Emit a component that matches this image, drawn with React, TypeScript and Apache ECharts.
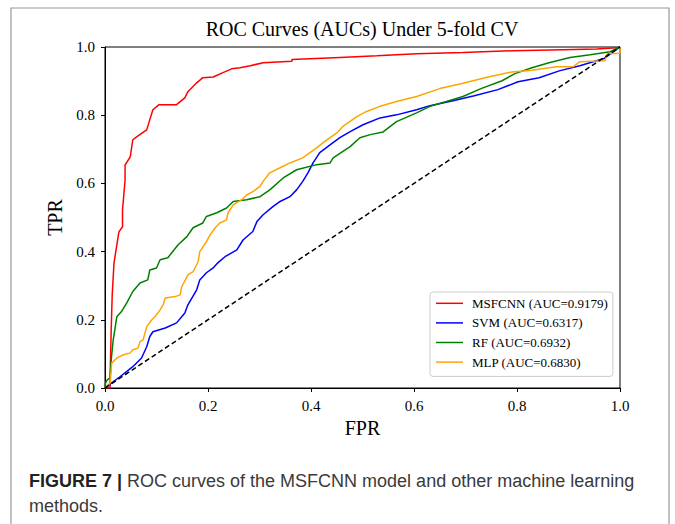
import React, { useEffect, useRef } from "react";
import * as echarts from "echarts";

const TITLE = "ROC Curves (AUCs) Under 5-fold CV";
const SERIES_NAMES = [
  "MSFCNN (AUC=0.9179)",
  "SVM (AUC=0.6317)",
  "RF (AUC=0.6932)",
  "MLP (AUC=0.6830)",
];
const SERIES_COLORS = ["#ff0000", "#0000ff", "#008000", "#ffa500"];

const msfcnnFpr = [0, 0.01, 0.0097, 0.012, 0.014, 0.0175, 0.023, 0.027, 0.034, 0.034, 0.039, 0.039, 0.049, 0.054, 0.062, 0.081, 0.087, 0.093, 0.105, 0.139, 0.146, 0.155, 0.161, 0.178, 0.19, 0.21, 0.229, 0.246, 0.262, 0.282, 0.307, 0.363, 0.363, 0.456, 0.528, 0.605, 0.695, 0.792, 0.889, 0.955, 0.994, 1];
const msfcnnTpr = [0, 0, 0.015, 0.17, 0.273, 0.367, 0.42, 0.458, 0.473, 0.522, 0.61, 0.654, 0.678, 0.728, 0.737, 0.757, 0.787, 0.816, 0.831, 0.831, 0.84, 0.851, 0.869, 0.895, 0.91, 0.912, 0.925, 0.936, 0.939, 0.945, 0.954, 0.958, 0.963, 0.969, 0.974, 0.98, 0.984, 0.989, 0.992, 0.994, 0.998, 1];

const svmFpr = [0, 0.003, 0.029, 0.054, 0.071, 0.081, 0.087, 0.093, 0.117, 0.139, 0.155, 0.161, 0.178, 0.184, 0.197, 0.21, 0.219, 0.233, 0.256, 0.268, 0.287, 0.295, 0.307, 0.326, 0.34, 0.359, 0.372, 0.384, 0.394, 0.404, 0.417, 0.437, 0.456, 0.476, 0.501, 0.534, 0.566, 0.605, 0.631, 0.678, 0.717, 0.763, 0.802, 0.843, 0.882, 0.922, 0.969, 1];
const svmTpr = [0, 0.004, 0.033, 0.0625, 0.088, 0.121, 0.151, 0.165, 0.176, 0.191, 0.22, 0.244, 0.288, 0.317, 0.338, 0.352, 0.367, 0.385, 0.405, 0.434, 0.459, 0.488, 0.508, 0.532, 0.547, 0.561, 0.581, 0.606, 0.631, 0.66, 0.69, 0.713, 0.734, 0.752, 0.772, 0.792, 0.801, 0.816, 0.828, 0.843, 0.857, 0.875, 0.898, 0.91, 0.93, 0.945, 0.966, 1];

const rfFpr = [0, 0.001, 0.004, 0.01, 0.012, 0.016, 0.023, 0.032, 0.042, 0.054, 0.068, 0.083, 0.087, 0.1, 0.107, 0.122, 0.142, 0.159, 0.171, 0.19, 0.197, 0.217, 0.236, 0.249, 0.275, 0.301, 0.32, 0.346, 0.372, 0.411, 0.437, 0.443, 0.462, 0.476, 0.495, 0.515, 0.54, 0.566, 0.605, 0.631, 0.663, 0.695, 0.73, 0.771, 0.796, 0.829, 0.862, 0.903, 0.942, 0.981, 1];
const rfTpr = [0, 0.015, 0.023, 0.03, 0.082, 0.141, 0.209, 0.224, 0.249, 0.283, 0.308, 0.317, 0.346, 0.352, 0.376, 0.382, 0.42, 0.444, 0.47, 0.484, 0.503, 0.514, 0.528, 0.547, 0.552, 0.561, 0.581, 0.616, 0.64, 0.655, 0.66, 0.675, 0.694, 0.708, 0.734, 0.743, 0.751, 0.781, 0.807, 0.826, 0.84, 0.855, 0.878, 0.901, 0.922, 0.939, 0.954, 0.969, 0.977, 0.986, 1];

const mlpFpr = [0, 0.01, 0.013, 0.023, 0.035, 0.049, 0.054, 0.064, 0.068, 0.074, 0.081, 0.091, 0.097, 0.107, 0.113, 0.117, 0.136, 0.146, 0.149, 0.161, 0.171, 0.181, 0.184, 0.197, 0.204, 0.214, 0.223, 0.236, 0.239, 0.249, 0.265, 0.275, 0.287, 0.301, 0.307, 0.32, 0.34, 0.359, 0.384, 0.398, 0.411, 0.423, 0.437, 0.45, 0.462, 0.476, 0.489, 0.508, 0.534, 0.566, 0.605, 0.65, 0.691, 0.744, 0.79, 0.829, 0.876, 0.909, 0.922, 0.971, 0.975, 1, 1];
const mlpTpr = [0, 0.015, 0.073, 0.088, 0.097, 0.103, 0.112, 0.117, 0.136, 0.141, 0.18, 0.2, 0.209, 0.229, 0.244, 0.264, 0.268, 0.273, 0.297, 0.332, 0.341, 0.371, 0.4, 0.429, 0.449, 0.47, 0.484, 0.493, 0.514, 0.537, 0.552, 0.566, 0.576, 0.591, 0.606, 0.631, 0.646, 0.66, 0.675, 0.69, 0.704, 0.719, 0.734, 0.748, 0.767, 0.782, 0.796, 0.811, 0.826, 0.84, 0.855, 0.878, 0.892, 0.912, 0.927, 0.932, 0.942, 0.942, 0.957, 0.96, 0.98, 0.982, 1];

const chanceFpr = [0, 1];
const chanceTpr = [0, 1];

const AXIS_TICKS = [0, 0.2, 0.4, 0.6, 0.8, 1.0];
const CAPTION_BOLD = "FIGURE 7 |";
const CAPTION_LINE1 = " ROC curves of the MSFCNN model and other machine learning";
const CAPTION_LINE2 = "methods.";

const zip = (xs: number[], ys: number[]) => xs.map((x, i) => [x, ys[i]]);

const SERIF = "'Liberation Serif', 'Times New Roman', serif";
const SANS = "'Liberation Sans', Arial, sans-serif";

export default function App() {
  const ref = useRef<HTMLDivElement>(null);
  useEffect(() => {
    if (!ref.current) return;
    const chart = echarts.init(ref.current, null, { renderer: "svg" });
    const curves = [
      zip(msfcnnFpr, msfcnnTpr),
      zip(svmFpr, svmTpr),
      zip(rfFpr, rfTpr),
      zip(mlpFpr, mlpTpr),
    ];
    const axisCommon = {
      type: "value" as const,
      min: AXIS_TICKS[0],
      max: AXIS_TICKS[AXIS_TICKS.length - 1],
      interval: 0.2,
      splitLine: { show: false },
      axisLine: { show: true, lineStyle: { color: "#000", width: 1 } },
      axisTick: { show: true, inside: false, length: 4, lineStyle: { color: "#000" } },
      axisLabel: {
        color: "#000",
        fontFamily: SERIF,
        fontSize: 15,
        formatter: (v: number) => v.toFixed(1),
      },
      nameLocation: "middle" as const,
      nameTextStyle: { color: "#000", fontFamily: SERIF, fontSize: 20 },
    };
    chart.setOption({
      animation: false,
      backgroundColor: "#fff",
      title: {
        text: TITLE,
        left: 362,
        textAlign: "center",
        top: 19,
        padding: 0,
        textStyle: { fontFamily: SERIF, fontSize: 20, fontWeight: "normal", color: "#000" },
      },
      grid: {
        left: 105,
        top: 47,
        width: 515,
        height: 341,
        show: true,
        borderColor: "#000",
        borderWidth: 1,
        backgroundColor: "transparent",
      },
      xAxis: { ...axisCommon, name: "FPR", nameGap: 22, axisLabel: { ...axisCommon.axisLabel, margin: 10 } },
      yAxis: { ...axisCommon, name: "TPR", nameGap: 29, axisLabel: { ...axisCommon.axisLabel, margin: 10 } },
      legend: {
        orient: "vertical",
        left: 430,
        top: 292,
        data: SERIES_NAMES,
        icon: "rect",
        itemWidth: 27,
        itemHeight: 1.5,
        itemGap: 5,
        padding: [4, 5, 7, 6],
        backgroundColor: "#fff",
        borderColor: "#cccccc",
        borderWidth: 1,
        borderRadius: 3,
        textStyle: { fontFamily: SERIF, fontSize: 13, color: "#000", lineHeight: 14.6, padding: [0, 0, 0, 4] },
      },
      graphic: [
        {
          type: "rect",
          shape: { x: 11, y: 8, width: 658, height: 540 },
          style: { fill: "none", stroke: "#999", lineWidth: 1.2 },
          silent: true,
        },
        {
          type: "text",
          x: 29,
          y: 481,
          style: {
            text: "{b|" + CAPTION_BOLD + "}" + CAPTION_LINE1,
            fontFamily: SANS,
            fontSize: 18,
            fill: "#3a3a3a",
            verticalAlign: "middle",
            rich: { b: { fontWeight: "bold", fontFamily: SANS, fontSize: 18, fill: "#222" } },
          },
        },
        {
          type: "text",
          x: 29,
          y: 506,
          style: { text: CAPTION_LINE2, fontFamily: SANS, fontSize: 18, fill: "#3a3a3a", verticalAlign: "middle" },
        },
      ],
      series: [
        ...curves.map((d, i) => ({
          name: SERIES_NAMES[i],
          type: "line",
          data: d,
          showSymbol: false,
          symbol: "none",
          color: SERIES_COLORS[i],
          lineStyle: { color: SERIES_COLORS[i], width: 1.5 },
          z: 2,
        })),
        {
          name: "chance",
          type: "line",
          data: zip(chanceFpr, chanceTpr),
          showSymbol: false,
          symbol: "none",
          lineStyle: { color: "#000", width: 1.5, type: [5, 3] },
          z: 3,
        },
      ],
    });
    return () => chart.dispose();
  }, []);
  return (
    <div
      ref={ref}
      style={{ position: "fixed", left: 0, top: 0, width: 675, height: 524, background: "#fff" }}
    />
  );
}
